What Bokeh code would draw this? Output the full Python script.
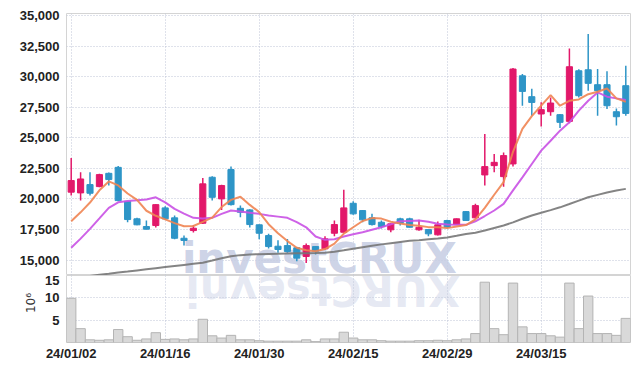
import math
from bokeh.plotting import figure
from bokeh.layouts import column
from bokeh.models import ColumnDataSource, FixedTicker, NumeralTickFormatter, Range1d, Label
from bokeh.embed import file_html
from bokeh.resources import INLINE

dates = ["24/01/02", "24/01/03", "24/01/04", "24/01/05", "24/01/08", "24/01/09", "24/01/10", "24/01/11",
         "24/01/12", "24/01/15", "24/01/16", "24/01/17", "24/01/18", "24/01/19", "24/01/22", "24/01/23",
         "24/01/24", "24/01/25", "24/01/26", "24/01/29", "24/01/30", "24/01/31", "24/02/01", "24/02/02",
         "24/02/05", "24/02/06", "24/02/07", "24/02/08", "24/02/13", "24/02/14", "24/02/15", "24/02/16",
         "24/02/19", "24/02/20", "24/02/21", "24/02/22", "24/02/23", "24/02/26", "24/02/27", "24/02/28",
         "24/02/29", "24/03/04", "24/03/05", "24/03/06", "24/03/07", "24/03/08", "24/03/11", "24/03/12",
         "24/03/13", "24/03/14", "24/03/15", "24/03/18", "24/03/19", "24/03/20", "24/03/21", "24/03/22",
         "24/03/25", "24/03/26", "24/03/27", "24/03/28"]

opens = [20550, 20490, 21170, 21005, 22090, 22580, 19800, 18370, 17740, 17820,
         19265, 18450, 16780, 17410, 18010, 21770, 20000, 22400, 19230, 19100,
         17880, 17000, 16130, 16180, 16000, 15290, 16100, 15915, 17190, 17270,
         19640, 19045, 18450, 18090, 17470, 18370, 18370, 17470, 17490, 17060,
         18230, 17900, 18960, 18450, 21960, 22720, 21820, 22860, 30070, 28360,
         26945, 27130, 26890, 26340, 30480, 30560, 29340, 29340, 27130, 29260]
highs = [23350, 22170, 22170, 22050, 22150, 22700, 19830, 18450, 18230, 19560,
         19400, 18650, 17000, 17870, 21700, 21850, 21150, 22640, 19450, 19150,
         17900, 17140, 16620, 16720, 16050, 16350, 16150, 16950, 18230, 20740,
         19800, 19100, 18775, 18230, 18000, 18450, 18450, 18300, 17500, 18150,
         18300, 18400, 19000, 19600, 25300, 23680, 23800, 30700, 30210, 29000,
         27900, 28300, 26950, 32300, 30600, 33480, 30620, 30430, 27400, 30890]
lows = [20270, 19860, 20270, 20950, 21090, 19800, 18090, 17850, 17500, 17650,
        18290, 16700, 16185, 17250, 17950, 19860, 19100, 19450, 18500, 17650,
        16700, 15940, 15590, 15600, 14900, 14750, 15450, 15850, 16950, 17250,
        18700, 18090, 17820, 17570, 17270, 17820, 17650, 17400, 16950, 17000,
        17600, 17880, 18200, 18400, 21090, 22170, 21000, 22640, 27620, 26810,
        25930, 26810, 25800, 26180, 28300, 28850, 26810, 27350, 26000, 26810]
closes = [21500, 21630, 20460, 21985, 21580, 19860, 18310, 17880, 17520, 19530,
          18370, 16780, 16600, 17600, 21230, 20130, 21090, 19530, 18905, 17900,
          17190, 16100, 15860, 15700, 15150, 16180, 15720, 16730, 17900, 19265,
          18775, 18285, 17900, 17740, 17960, 18010, 17680, 17680, 17140, 17880,
          17680, 18370, 18230, 19450, 22640, 22990, 23540, 30620, 28790, 27890,
          27300, 27840, 26260, 30810, 28440, 29450, 28850, 27620, 26720, 26990]
volume_m = [9.9, 3.1, 0.6, 0.5, 0.6, 2.9, 1.3, 0.5, 0.8, 2.2,
            0.7, 0.8, 0.6, 0.8, 5.2, 1.5, 1.0, 1.6, 0.6, 0.6,
            0.4, 0.3, 0.3, 0.3, 0.3, 0.6, 0.2, 0.8, 0.8, 2.3,
            1.0, 0.6, 0.6, 0.4, 0.3, 0.3, 0.3, 0.4, 0.4, 0.5,
            0.4, 0.6, 0.8, 2.0, 13.5, 3.1, 1.75, 13.3, 3.5, 2.0,
            2.0, 1.5, 1.2, 13.3, 3.1, 10.4, 2.0, 2.0, 1.6, 5.4]
ma5 = [18170, 18900, 19700, 20700, 21430, 21100, 20440, 19920, 19030, 18620,
       18320, 18020, 17760, 17780, 18120, 18470, 19330, 19920, 20180, 19510,
       18920, 17930, 17190, 16550, 16000, 15800, 15720, 15900, 16340, 17160,
       17680, 18190, 18430, 18390, 18130, 17980, 17860, 17810, 17690, 17680,
       17610, 17750, 17860, 18320, 19270, 20340, 21370, 23850, 25720, 26770,
       27630, 28490, 27620, 28020, 28130, 28560, 28760, 29030, 28220, 27930]
ma20 = [16000, 16750, 17550, 18400, 19265, 19720, 19820, 19880, 19950, 20130,
        19720, 19180, 18800, 18450, 18400, 18450, 18775, 19045, 18960, 18870,
        18775, 18650, 18550, 18450, 18100, 17680, 16920, 16650, 16700, 16920,
        17100, 17270, 17480, 17680, 17920, 18170, 18200, 18227, 18130, 17960,
        17900, 17880, 17876, 18170, 18600, 19050, 19590, 20700, 21765, 22850,
        23946, 24760, 25580, 26260, 27215, 28030, 28710, 28360, 28220, 28090]
ma60 = [13560, 13610, 13700, 13790, 13880, 13980, 14060, 14150, 14240, 14330,
        14420, 14510, 14600, 14690, 14780, 14960, 15150, 15300, 15400, 15450,
        15480, 15500, 15520, 15540, 15550, 15560, 15570, 15600, 15680, 15800,
        15930, 16050, 16170, 16280, 16380, 16480, 16570, 16620, 16690, 16760,
        16850, 16980, 17120, 17230, 17420, 17620, 17820, 18080, 18380, 18640,
        18860, 19080, 19310, 19580, 19860, 20130, 20330, 20520, 20680, 20820]
tick_idx = [0, 10, 20, 30, 40, 50]
tick_labels = ["24/01/02", "24/01/16", "24/01/30", "24/02/15", "24/02/29", "24/03/15"]
price_ticks = [15000, 17500, 20000, 22500, 25000, 27500, 30000, 32500, 35000]
volume_ticks = [5, 10, 15]

UP = "#e2186a"
DOWN = "#2e95c7"
GRID = "#bfc5d6"
WM = "#c7cee4"

idx = list(range(len(dates)))
src = ColumnDataSource(dict(
    x=idx, o=opens, h=highs, l=lows, c=closes,
    top=[max(a, b) for a, b in zip(opens, closes)],
    bottom=[min(a, b) for a, b in zip(opens, closes)],
    color=[UP if c >= o else DOWN for o, c in zip(opens, closes)],
    vol=volume_m,
))

xr = Range1d(-0.5, 59.5)

p1 = figure(width=632, height=275, x_range=xr, y_range=Range1d(13734, 35163),
            output_backend="svg", toolbar_location=None,
            min_border_left=66, min_border_right=2, min_border_top=13, min_border_bottom=0)
wm = Label(x=26.4, y=15163, text="investCRUX", text_font="DejaVu Sans", text_font_style="bold",
           text_font_size="42px", text_color=WM, text_alpha=0.9, text_align="center",
           text_baseline="middle", level="underlay")
p1.add_layout(wm)
p1.segment(x0="x", y0="l", x1="x", y1="h", line_color="color", line_width=1.5, source=src)
p1.vbar(x="x", width=0.65, top="top", bottom="bottom", fill_color="color", line_color="color", source=src)
p1.line(idx, ma60, line_color="#777777", line_width=2, line_alpha=0.9)
p1.line(idx, ma20, line_color="#c951e4", line_width=2, line_alpha=0.9)
p1.line(idx, ma5, line_color="#ef8452", line_width=2, line_alpha=0.9)

p1.xaxis.visible = False
p1.xaxis.ticker = FixedTicker(ticks=tick_idx)
p1.yaxis.ticker = FixedTicker(ticks=price_ticks)
p1.yaxis.formatter = NumeralTickFormatter(format="0,0")

p2 = figure(width=632, height=88, x_range=xr, y_range=Range1d(0, 15),
            output_backend="svg", toolbar_location=None,
            min_border_left=66, min_border_right=2, min_border_top=0, min_border_bottom=21)
refl = Label(x=41.4, y=11.75, text="XURCtsevni", angle=math.pi, text_font="DejaVu Sans",
             text_font_style="bold", text_font_size="42px", text_color=WM, text_alpha=0.45,
             text_align="left", text_baseline="middle", level="underlay")
p2.add_layout(refl)
p2.vbar(x="x", width=1.0, top="vol", bottom=0, fill_color="#d9d9d9", line_color="#b4b4b4",
        line_width=1, source=src)
p2.xaxis.ticker = FixedTicker(ticks=tick_idx)
p2.xaxis.major_label_overrides = {i: s for i, s in zip(tick_idx, tick_labels)}
p2.yaxis.ticker = FixedTicker(ticks=volume_ticks)
p2.yaxis.axis_label = "\u200310\u2076"
p2.yaxis.axis_label_text_font = "DejaVu Sans"
p2.yaxis.axis_label_text_font_style = "normal"
p2.yaxis.axis_label_text_font_size = "12px"
p2.yaxis.axis_label_text_color = "#333333"
p2.yaxis.axis_label_standoff = 4

for p in (p1, p2):
    p.outline_line_color = "#d4d4d4"
    p.outline_line_width = 1
    p.background_fill_color = "white"
    p.border_fill_color = "white"
    for ax in p.axis:
        ax.axis_line_color = None
        ax.major_tick_line_color = None
        ax.minor_tick_line_color = None
        ax.major_tick_out = 0
        ax.major_tick_in = 0
        ax.major_label_text_font = "Liberation Sans"
        ax.major_label_text_font_style = "bold"
        ax.major_label_text_font_size = "13px"
        ax.major_label_text_color = "#222222"
    p.yaxis.major_label_standoff = 7
    p.xaxis.major_label_standoff = 3
    for g in (p.xgrid, p.ygrid):
        g.grid_line_color = GRID
        g.grid_line_dash = "1 2"
        g.grid_line_width = 1

layout = column(p1, p2, spacing=0)
open("out.html", "w").write(file_html(layout, INLINE))
